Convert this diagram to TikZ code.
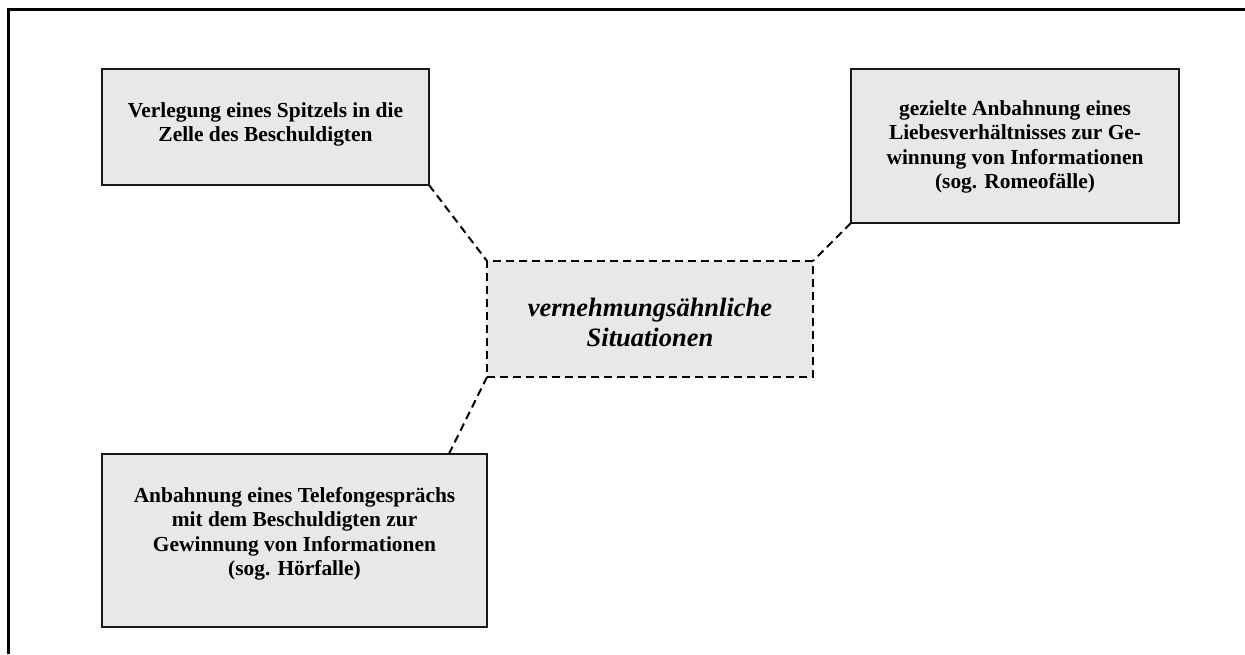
\documentclass[tikz,border=0pt]{standalone}
\usepackage{fontspec}
\setmainfont{Liberation Serif}
\usetikzlibrary{calc}
\definecolor{boxgray}{HTML}{E8E8E8}
\begin{document}
\begin{tikzpicture}[x=1pt,y=-1pt,
  box/.style={draw=black!90, line width=2pt, fill=boxgray, inner sep=0pt, outer sep=0pt},
  dashbox/.style={draw=black, line width=2pt, fill=boxgray, inner sep=0pt, outer sep=0pt, dash pattern=on 8pt off 5pt},
  boxtext/.style={align=center, inner sep=0pt, anchor=north, font=\fontsize{21.4}{24.5}\selectfont\bfseries},
  ctext/.style={align=center, inner sep=0pt, font=\fontsize{26.5}{30}\selectfont\bfseries\itshape},
  conn/.style={line width=2pt, dash pattern=on 8pt off 5pt}
]
\useasboundingbox (0,0) rectangle (1245,654);
\fill[white] (0,0) rectangle (1245,654);
% frame
\draw[line width=3pt] (8,654) -- (8,9) -- (1245,9);

\node[box, minimum width=327pt, minimum height=116pt] (tl) at (265.5,127) {};
\node[box, minimum width=328pt, minimum height=154pt] (tr) at (1015,146) {};
\node[box, minimum width=385pt, minimum height=173pt] (bl) at (294.5,540.5) {};
\node[dashbox, minimum width=326pt, minimum height=116pt] (c) at (650,319) {};

\node[boxtext] (tlt) at ($(tl.north)+(0,33)$) {Verlegung eines Spitzels in die\\Zelle des Beschuldigten};
\node[boxtext] (trt) at ($(tr.north)+(0,31)$) {gezielte Anbahnung eines\\Liebesverhältnisses zur Ge-\\winnung von Informationen\\(sog. Romeofälle)};
\node[boxtext] (blt) at ($(bl.north)+(0,33)$) {Anbahnung eines Telefongesprächs\\mit dem Beschuldigten zur\\Gewinnung von Informationen\\(sog. Hörfalle)};
\node[ctext] (ct) at ($(c.center)+(0,3)$) {vernehmungsähnliche\\Situationen};

\coordinate (blc) at ($(bl.north west)!0.901!(bl.north east)$);
\draw[conn] (tl.south east) -- (c.north west);
\draw[conn] (tr.south west) -- (c.north east);
\draw[conn] (blc) -- (c.south west);
\end{tikzpicture}
\end{document}
